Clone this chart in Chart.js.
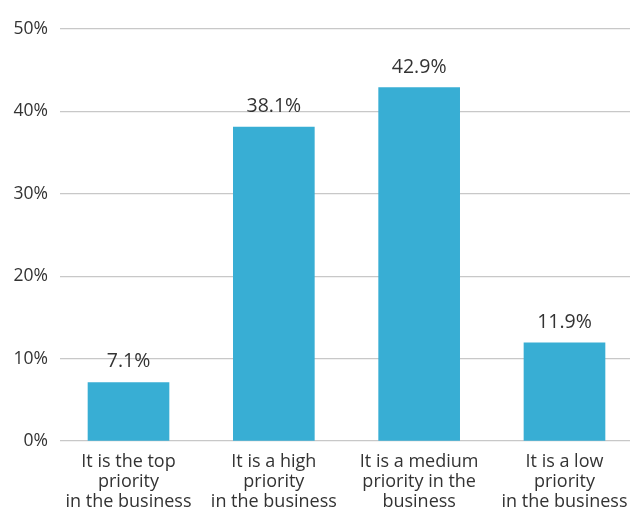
<!DOCTYPE html>
<html>
<head>
<meta charset="utf-8">
<script src="https://cdn.jsdelivr.net/npm/chart.js@4"></script>
<style>
  html, body { margin: 0; padding: 0; background: #fff; overflow: hidden; }
  #wrap { width: 630px; height: 508px; }
</style>
</head>
<body>
<div id="wrap"><canvas id="priorityChart" width="630" height="508"></canvas></div>
<script>
// Survey answers and the share of respondents for each
const categories = [
  ["It is the top", "priority", "in the business"],
  ["It is a high", "priority", "in the business"],
  ["It is a medium", "priority in the", "business"],
  ["It is a low", "priority", "in the business"]
];
const shares = [7.1, 38.1, 42.9, 11.9];
const yTicks = [0, 10, 20, 30, 40, 50];

const barColor = "#38aed4";
const textColor = "#333333";
const fontFamily = "'Open Sans', sans-serif";

// write the percentage above each bar
const valueLabels = {
  id: "valueLabels",
  afterDatasetsDraw(chart) {
    const ctx = chart.ctx;
    const meta = chart.getDatasetMeta(0);
    ctx.save();
    ctx.font = "19.5px " + fontFamily;
    ctx.fillStyle = textColor;
    ctx.textAlign = "center";
    ctx.textBaseline = "alphabetic";
    meta.data.forEach((bar, i) => {
      ctx.fillText(shares[i].toFixed(1) + "%", bar.x, bar.y - 15);
    });
    ctx.restore();
  }
};

const ctx = document.getElementById("priorityChart").getContext("2d");
new Chart(ctx, {
  type: "bar",
  data: {
    datasets: [{
      data: shares.map((v, i) => ({ x: i, y: v })),
      backgroundColor: barColor,
      borderWidth: 0,
      barThickness: 81
    }]
  },
  options: {
    responsive: false,
    animation: false,
    layout: { padding: { top: 29, right: 0, left: 0, bottom: 0 } },
    plugins: { legend: { display: false }, tooltip: { enabled: false } },
    scales: {
      x: {
        type: "linear",
        min: -0.4714,
        max: 3.4508,
        offset: false,
        grid: { display: false, drawTicks: false },
        border: { display: false },
        afterBuildTicks(scale) {
          scale.ticks = categories.map((c, i) => ({ value: i }));
        },
        ticks: {
          autoSkip: false,
          maxRotation: 0,
          padding: 11,
          color: textColor,
          font: { family: fontFamily, size: 18, lineHeight: 1.11 },
          callback: (v) => categories[v]
        },
        afterFit(scale) {
          // let the plot run to the right edge; last label may overhang
          scale.height = 67;
          scale.paddingLeft = 0;
          scale.paddingRight = 0;
        }
      },
      y: {
        min: 0,
        max: 50,
        afterBuildTicks(scale) {
          scale.ticks = yTicks.map(v => ({ value: v }));
        },
        grid: { color: "#c8c8c8", lineWidth: 1.2, drawTicks: false },
        border: { display: false },
        ticks: {
          padding: 12,
          color: textColor,
          font: { family: fontFamily, size: 17.5 },
          callback: (v) => v + "%"
        },
        afterFit(scale) { scale.width = 60; }
      }
    }
  },
  plugins: [valueLabels]
});
</script>
</body>
</html>
